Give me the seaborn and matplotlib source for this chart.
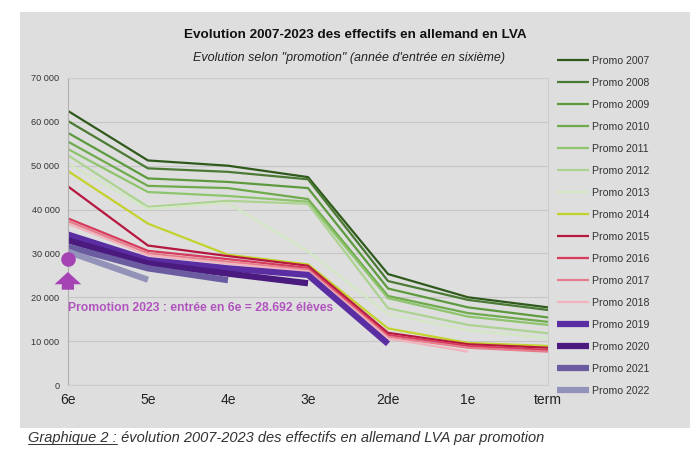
import numpy as np
import pandas as pd
import matplotlib
matplotlib.use("Agg")
import matplotlib.pyplot as plt
from matplotlib.patches import Rectangle
from matplotlib.lines import Line2D
import seaborn as sns

# niveaux (x) et effectifs par promotion (année d'entrée en 6e)
levels = ["6e", "5e", "4e", "3e", "2de", "1e", "term"]
promos = ["Promo 2007", "Promo 2008", "Promo 2009", "Promo 2010", "Promo 2011",
          "Promo 2012", "Promo 2013", "Promo 2014", "Promo 2015", "Promo 2016",
          "Promo 2017", "Promo 2018", "Promo 2019", "Promo 2020", "Promo 2021",
          "Promo 2022"]
values = [
    [62500, 51200, 50000, 47400, 25300, 20000, 17700],
    [60200, 49400, 48600, 46900, 23700, 19400, 17100],
    [57500, 47100, 46300, 44900, 22000, 17700, 15400],
    [55500, 45400, 44900, 42400, 20300, 16400, 14400],
    [53800, 44000, 43100, 41800, 19800, 15600, 13700],
    [52400, 40600, 42000, 41300, 17500, 13700, 11800],
    [50500, 40200, 41500, 30500, 16200, 12500, 10700],
    [48800, 36800, 29700, 27500, 12900, 9600, 8900],
    [45300, 31800, 29400, 27200, 11900, 9300, 8500],
    [38000, 30600, 28700, 26700, 11400, 8900, 8000],
    [37400, 30000, 28100, 26300, 11000, 8500, 7600],
    [36800, 29600, 27700, 25900, 10600, 7600],
    [34300, 28500, 26600, 25100, 9400],
    [33000, 27700, 25400, 23200],
    [31500, 26600, 23900],
    [30400, 24000],
]
promo_2023 = 28692

colors = ["#2f5a1c", "#4b7a34", "#5d9a3e", "#6fab4c", "#8dc46c", "#acd391",
          "#d3e7c4", "#c3d22c", "#b5173f", "#d63a5c", "#e67c8a", "#f0b3bb",
          "#5b2da2", "#4a1a7e", "#6b5ca2", "#9392b9"]
widths = [1.6] * 12 + [4.5] * 4

rows = []
for p, vals in zip(promos, values):
    for i, v in enumerate(vals):
        rows.append({"promo": p, "pos": i, "effectif": v})
df = pd.DataFrame(rows)

sns.set_style("white")
plt.rcParams["font.family"] = ["Liberation Sans", "DejaVu Sans"]

panel = "#dedede"
fig = plt.figure(figsize=(7, 4.5), dpi=100)
fig.patches.append(Rectangle((0.029, 0.049), 0.957, 0.924, transform=fig.transFigure,
                             facecolor=panel, edgecolor="none", zorder=-10))
ax = fig.add_axes([0.097, 0.1444, 0.686, 0.6823])
ax.set_facecolor(panel)

handles = []
for p, c, w in zip(promos, colors, widths):
    sns.lineplot(data=df[df.promo == p], x="pos", y="effectif", color=c,
                 linewidth=w, ax=ax, legend=False, solid_capstyle="butt")
    handles.append(Line2D([], [], color=c, linewidth=w, solid_capstyle="butt"))

# promotion 2023 : point + flèche
ax.scatter([0], [promo_2023], s=110, color="#a543b5", zorder=5, clip_on=False,
           linewidths=0)
ax.annotate("", xy=(0, promo_2023 - 2300), xytext=(0, promo_2023 - 7600),
            arrowprops=dict(arrowstyle="simple,head_width=1.2,head_length=0.55,tail_width=0.55",
                            color="#a543b5", lw=0, mutation_scale=16),
            annotation_clip=False)
ax.text(0, promo_2023 - 11200, "Promotion 2023 : entrée en 6e = 28.692 élèves",
        color="#b054bd", fontsize=8.7, fontweight="bold", va="center", ha="left")

ax.set_xlim(0, 6)
ax.set_ylim(0, 70000)
ax.set_xticks(range(len(levels)))
ax.set_xticklabels(levels, fontsize=10, color="#222222")
yt = np.arange(0, 70001, 10000)
ax.set_yticks(yt)
ax.set_yticklabels([f"{int(v):,}".replace(",", " ") for v in yt], fontsize=6.6, color="#333333")
ax.tick_params(axis="x", length=0, pad=6)
ax.tick_params(axis="y", length=0, pad=6)
ax.grid(axis="y", color="#c6c6c6", linewidth=0.8)
ax.set_axisbelow(True)
for s in ["top", "right", "bottom"]:
    ax.spines[s].set_color("#cccccc")
    ax.spines[s].set_linewidth(0.8)
ax.spines["left"].set_color("#b0b0b0")
ax.set_xlabel("")
ax.set_ylabel("")

fig.text(0.508, 0.922, "Evolution 2007-2023 des effectifs en allemand en LVA",
         ha="center", va="center", fontsize=9.7, fontweight="bold", color="#111111")
fig.text(0.498, 0.871, "Evolution selon \"promotion\" (année d'entrée en sixième)",
         ha="center", va="center", fontsize=9, style="italic", color="#222222")

fig.legend(handles, promos, loc="upper left", bbox_to_anchor=(0.782, 0.897),
           frameon=False, fontsize=7.6, handlelength=3.0, handletextpad=0.3,
           labelspacing=1.135, labelcolor="#333333")

cap = fig.text(0.04, 0.027, "Graphique 2 :", fontsize=10.5, style="italic",
               color="#333333", va="center", ha="left")
fig.canvas.draw()
bb = cap.get_window_extent()
inv = fig.transFigure.inverted()
(x0, y0), (x1, _) = inv.transform([(bb.x0, bb.y0 + 1), (bb.x1, bb.y0 + 1)])
fig.add_artist(Line2D([x0, x1], [y0, y0], color="#333333", linewidth=0.7,
                      transform=fig.transFigure))
fig.text(x1, 0.027, " évolution 2007-2023 des effectifs en allemand LVA par promotion",
         fontsize=10.5, style="italic", color="#333333", va="center", ha="left")

fig.savefig("out.png", dpi=100)
